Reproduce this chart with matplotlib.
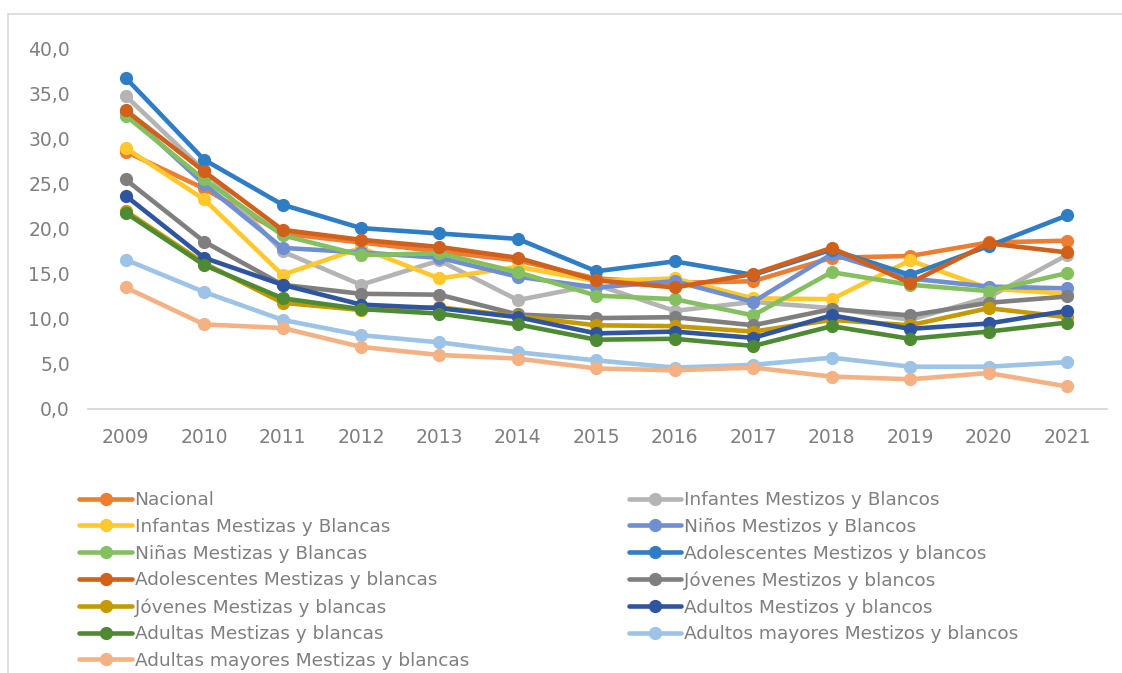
import numpy as np
import matplotlib
matplotlib.use("Agg")
import matplotlib.pyplot as plt
from matplotlib.lines import Line2D

plt.rcParams['font.family'] = ['DejaVu Sans']

years = list(range(2009, 2022))

nacional = [28.6, 24.5, 19.5, 18.5, 17.5, 16.5, 14.5, 14.0, 14.2, 16.8, 17.0, 18.5, 18.7]
infantes = [34.8, 26.5, 17.5, 13.8, 16.5, 12.1, 13.8, 10.9, 11.9, 11.2, 9.9, 12.4, 17.1]
infantas = [29.0, 23.3, 14.9, 17.9, 14.5, 15.8, 14.2, 14.5, 12.3, 12.2, 16.5, 13.4, 12.8]
ninos = [33.0, 25.0, 17.9, 17.4, 16.8, 14.7, 13.5, 14.2, 11.9, 17.2, 14.5, 13.6, 13.4]
ninas = [32.6, 25.5, 19.3, 17.1, 17.3, 15.2, 12.6, 12.2, 10.4, 15.2, 13.8, 13.1, 15.1]
adol_m = [36.8, 27.7, 22.7, 20.1, 19.5, 18.9, 15.3, 16.4, 14.9, 17.7, 14.9, 18.1, 21.5]
adol_f = [33.2, 26.4, 19.9, 18.8, 18.0, 16.8, 14.3, 13.5, 15.0, 17.9, 14.0, 18.4, 17.4]
joven_m = [25.5, 18.6, 13.8, 12.8, 12.7, 10.5, 10.1, 10.2, 9.3, 11.1, 10.4, 11.8, 12.5]
joven_f = [22.0, 16.2, 11.8, 11.0, 11.3, 10.3, 9.3, 9.2, 8.6, 9.9, 9.3, 11.2, 10.2]
adultos = [23.7, 16.8, 13.8, 11.6, 11.2, 10.2, 8.4, 8.6, 7.9, 10.4, 8.9, 9.5, 10.9]
adultas = [21.8, 16.0, 12.3, 11.1, 10.6, 9.4, 7.7, 7.8, 7.0, 9.2, 7.8, 8.6, 9.6]
mayores_m = [16.6, 13.0, 9.9, 8.2, 7.4, 6.3, 5.4, 4.6, 4.9, 5.7, 4.7, 4.7, 5.2]
mayores_f = [13.5, 9.4, 9.0, 6.9, 6.0, 5.6, 4.5, 4.3, 4.6, 3.6, 3.3, 4.0, 2.5]

labels = [
    "Nacional",
    "Infantes Mestizos y Blancos",
    "Infantas Mestizas y Blancas",
    "Niños Mestizos y Blancos",
    "Niñas Mestizas y Blancas",
    "Adolescentes Mestizos y blancos",
    "Adolescentes Mestizas y blancas",
    "Jóvenes Mestizos y blancos",
    "Jóvenes Mestizas y blancas",
    "Adultos Mestizos y blancos",
    "Adultas Mestizas y blancas",
    "Adultos mayores Mestizos y blancos",
    "Adultas mayores Mestizas y blancas",
]
series = [nacional, infantes, infantas, ninos, ninas, adol_m, adol_f,
          joven_m, joven_f, adultos, adultas, mayores_m, mayores_f]
colors = ["#ED7D31", "#B4B4B4", "#FFC82C", "#6F8FD2", "#84C060", "#2F7DC5",
          "#D0601A", "#7F7F7F", "#C49A00", "#2F55A0", "#4E8A34", "#9DC3E6", "#F4B183"]

fig = plt.figure(figsize=(11.22, 6.73), dpi=100)
ax = fig.add_axes([0.0784, 0.3923, 0.9082, 0.5349])

handles = []
for vals, lab, col in zip(series, labels, colors):
    h, = ax.plot(years, vals, color=col, lw=3.3, marker='o', markersize=8.5,
                 label=lab, solid_capstyle='round')
    handles.append(h)

ax.set_xlim(2008.52, 2021.51)
ax.set_ylim(0, 40)
ax.set_xticks(years)
ax.set_yticks(np.arange(0, 41, 5))
ax.set_yticklabels([f"{v:.1f}".replace(".", ",") for v in np.arange(0, 41, 5)])
for s in ["top", "right", "left"]:
    ax.spines[s].set_visible(False)
ax.spines["bottom"].set_color("#D9D9D9")
ax.spines["bottom"].set_linewidth(1.3)
ax.tick_params(axis='both', length=0, labelsize=13.5, colors="#7F7F7F")
ax.tick_params(axis='x', pad=14)
ax.tick_params(axis='y', pad=13)

# legend is filled column by column, so reorder to get the row-wise layout
order = [0, 2, 4, 6, 8, 10, 12, 1, 3, 5, 7, 9, 11]
leg = fig.legend([handles[i] for i in order], [labels[i] for i in order],
                 ncol=2, loc='upper left', bbox_to_anchor=(0.064, 0.281),
                 frameon=False, fontsize=13.3, handlelength=2.85,
                 handletextpad=0.15, labelspacing=0.47, columnspacing=8.65,
                 borderaxespad=0)
for t in leg.get_texts():
    t.set_color("#7F7F7F")

# outer border of the chart box
fig.add_artist(Line2D([8 / 1122, 8 / 1122], [0, 1 - 14 / 673], color="#D9D9D9", lw=1.2))
fig.add_artist(Line2D([8 / 1122, 1], [1 - 14 / 673, 1 - 14 / 673], color="#D9D9D9", lw=1.2))

fig.savefig("out.png", dpi=100)
